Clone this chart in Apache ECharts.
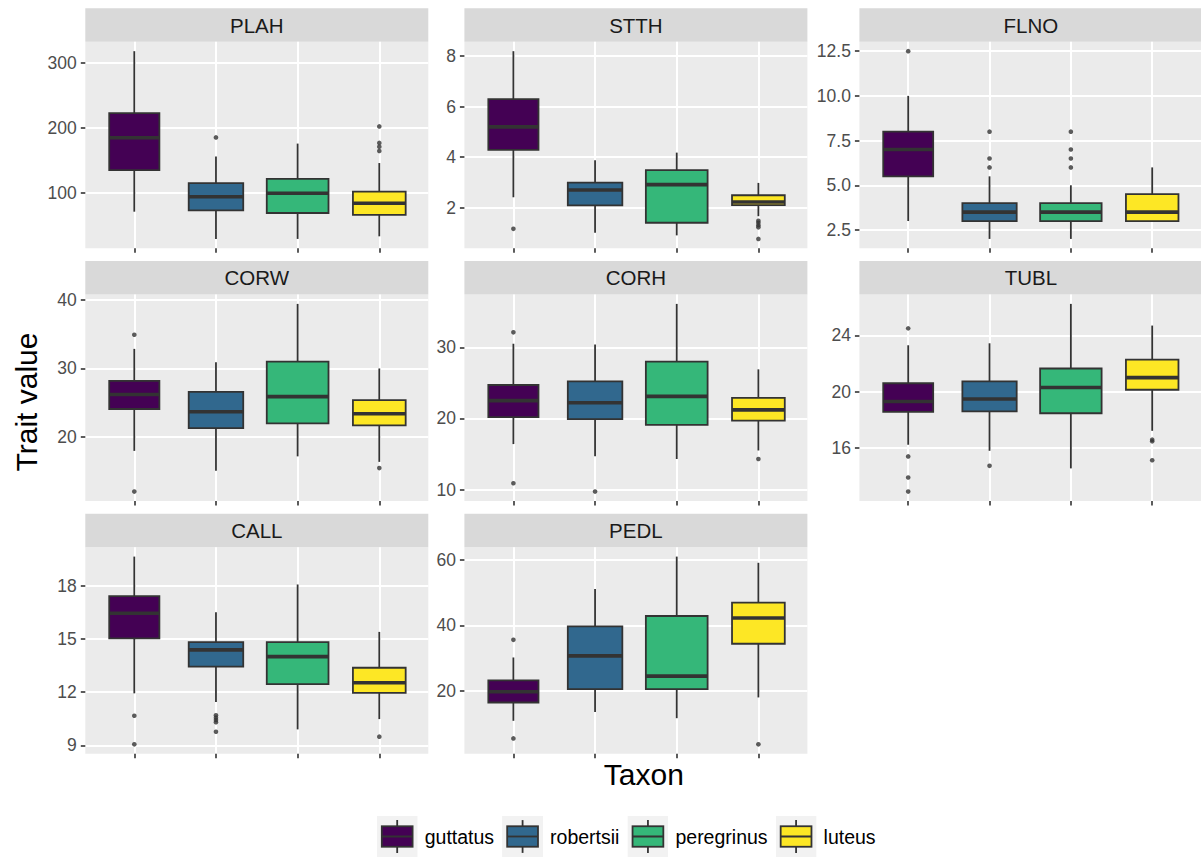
<!DOCTYPE html>
<html>
<head>
<meta charset="utf-8">
<script src="https://cdn.jsdelivr.net/npm/echarts@6.0.0/dist/echarts.min.js"></script>
<style>
  html, body { margin: 0; padding: 0; background: #ffffff; }
  #chart { width: 1201px; height: 858px; }
</style>
</head>
<body>
<div id="chart"></div>
<script>
// ---------------- DATA ----------------
const taxa = ['guttatus', 'robertsii', 'peregrinus', 'luteus'];
// estimated relative sample sizes (box widths are drawn proportional to sqrt(n))
const taxonRelativeN = [66, 78, 100, 73];
const traits = ['PLAH', 'STTH', 'FLNO', 'CORW', 'CORH', 'TUBL', 'CALL', 'PEDL'];

// each row: [lower whisker, Q1, median, Q3, upper whisker], one row per taxon
const PLAH_stats = [[71, 135, 185, 223, 318.5], [29, 73, 94, 115, 156], [29, 69, 99.5, 121.5, 176], [33, 66, 84, 102, 146]];
const PLAH_outliers = [[], [185.5], [], [202.5, 177, 171, 164.6]];
const PLAH_ticks = ['100', '200', '300'];

const STTH_stats = [[2.41, 4.29, 5.2, 6.3, 8.2], [1.0, 2.09, 2.7, 2.99, 3.88], [0.9, 1.4, 2.91, 3.49, 4.18], [1.66, 2.1, 2.22, 2.49, 2.98]];
const STTH_outliers = [[1.16], [], [], [1.48, 1.4, 1.3, 1.22, 0.76]];
const STTH_ticks = ['2', '4', '6', '8'];

const FLNO_stats = [[3, 5.5, 7, 8, 10], [2, 3, 3.5, 4, 5.5], [2, 3, 3.5, 4, 5], [3, 3, 3.5, 4.5, 6]];
const FLNO_outliers = [[12.5], [6, 6.5, 8], [6, 6.5, 7, 8], []];
const FLNO_ticks = ['2.5', '5.0', '7.5', '10.0', '12.5'];

const CORW_stats = [[18.0, 24.1, 26.2, 28.2, 32.85], [15.1, 21.3, 23.7, 26.6, 30.9], [17.2, 22.0, 25.9, 31.0, 39.4], [16.4, 21.7, 23.4, 25.4, 30.0]];
const CORW_outliers = [[34.9, 12.07], [], [], [15.5]];
const CORW_ticks = ['20', '30', '40'];

const CORH_stats = [[16.4, 20.2, 22.5, 24.7, 30.5], [14.7, 19.9, 22.2, 25.2, 30.4], [14.3, 19.1, 23.1, 28.0, 36.1], [15.5, 19.7, 21.2, 22.9, 26.9]];
const CORH_outliers = [[32.1, 10.9], [9.72], [], [14.3]];
const CORH_ticks = ['10', '20', '30'];

const TUBL_stats = [[16.23, 18.57, 19.3, 20.6, 23.3], [15.8, 18.6, 19.48, 20.73, 23.44], [14.55, 18.47, 20.3, 21.65, 26.24], [17.22, 20.14, 21.0, 22.28, 24.7]];
const TUBL_outliers = [[24.5, 15.4, 13.9, 12.9], [14.73], [], [16.59, 16.47, 15.13]];
const TUBL_ticks = ['16', '20', '24'];

const CALL_stats = [[11.93, 15.03, 16.44, 17.4, 19.63], [11.44, 13.43, 14.38, 14.81, 16.5], [9.9, 12.45, 14.0, 14.81, 18.06], [10.48, 11.96, 12.53, 13.37, 15.39]];
const CALL_outliers = [[10.67, 9.06], [10.69, 10.56, 10.43, 10.3, 9.77], [], [9.49]];
const CALL_ticks = ['9', '12', '15', '18'];

const PEDL_stats = [[10.8, 16.4, 19.7, 23.2, 30.2], [13.5, 20.5, 30.7, 39.7, 51.2], [11.6, 20.5, 24.5, 42.9, 61.1], [17.96, 34.4, 42.3, 47.0, 59.2]];
const PEDL_outliers = [[35.6, 5.4], [], [], [3.6]];
const PEDL_ticks = ['20', '40', '60'];

const xTitle = 'Taxon';
const yTitle = 'Trait value';

// ---------------- STYLE / LAYOUT ----------------
const taxonColors = ['#440154', '#31688E', '#35B779', '#FDE725'];
const FONT = '"Liberation Sans", Arial, Helvetica, sans-serif';
const colLeft = [85.3, 464.4, 859.4];
const panelW = 343;
const stripTop = [8.3, 261.0, 513.7];
const stripH = 33.5;
const panelH = 206.5;
const maxBoxWidth = 0.756;
const lineCol = '#333333';

const panelData = {
  PLAH: [PLAH_stats, PLAH_outliers, PLAH_ticks],
  STTH: [STTH_stats, STTH_outliers, STTH_ticks],
  FLNO: [FLNO_stats, FLNO_outliers, FLNO_ticks],
  CORW: [CORW_stats, CORW_outliers, CORW_ticks],
  CORH: [CORH_stats, CORH_outliers, CORH_ticks],
  TUBL: [TUBL_stats, TUBL_outliers, TUBL_ticks],
  CALL: [CALL_stats, CALL_outliers, CALL_ticks],
  PEDL: [PEDL_stats, PEDL_outliers, PEDL_ticks]
};

const maxN = Math.max.apply(null, taxonRelativeN);
const boxWidths = taxonRelativeN.map(n => maxBoxWidth * Math.sqrt(n / maxN));

function renderBox(params, api) {
  const x = api.value(0);
  const lo = api.coord([x, api.value(1)]);
  const q1 = api.coord([x, api.value(2)]);
  const med = api.coord([x, api.value(3)]);
  const q3 = api.coord([x, api.value(4)]);
  const hi = api.coord([x, api.value(5)]);
  const halfW = api.size([api.value(6), 0])[0] / 2;
  const color = api.visual('color');
  return {
    type: 'group',
    children: [
      { type: 'line', shape: { x1: lo[0], y1: lo[1], x2: q1[0], y2: q1[1] }, style: { stroke: lineCol, lineWidth: 1.8 } },
      { type: 'line', shape: { x1: q3[0], y1: q3[1], x2: hi[0], y2: hi[1] }, style: { stroke: lineCol, lineWidth: 1.8 } },
      { type: 'rect', shape: { x: q3[0] - halfW, y: q3[1], width: 2 * halfW, height: q1[1] - q3[1] }, style: { fill: color, stroke: lineCol, lineWidth: 1.8 } },
      { type: 'line', shape: { x1: med[0] - halfW, y1: med[1], x2: med[0] + halfW, y2: med[1] }, style: { stroke: lineCol, lineWidth: 3.6 } }
    ]
  };
}

const grids = [], xAxes = [], yAxes = [], series = [], graphics = [];

traits.forEach((trait, i) => {
  const col = i % 3, row = Math.floor(i / 3);
  const [stats, outliers, tickLabels] = panelData[trait];
  const tickVals = tickLabels.map(Number);
  let all = [];
  stats.forEach(s => { all = all.concat(s); });
  outliers.forEach(o => { all = all.concat(o); });
  const lo = Math.min.apply(null, all), hi = Math.max.apply(null, all);
  const pad = 0.05 * (hi - lo);
  const top = stripTop[row] + stripH;

  grids.push({
    left: colLeft[col], top: top, width: panelW, height: panelH,
    show: true, backgroundColor: '#EBEBEB', borderWidth: 0, containLabel: false
  });
  xAxes.push({
    type: 'value', gridIndex: i, min: 0.4, max: 4.6,
    axisLine: { show: false },
    axisLabel: { show: false, customValues: [1, 2, 3, 4] },
    axisTick: { show: true, customValues: [1, 2, 3, 4], length: 4.5, lineStyle: { color: lineCol, width: 1.6 } },
    splitLine: { show: true, lineStyle: { color: '#FFFFFF', width: 2 } }
  });
  yAxes.push({
    type: 'value', gridIndex: i, min: lo - pad, max: hi + pad,
    axisLine: { show: false },
    axisLabel: {
      show: true, customValues: tickVals, margin: 8.5,
      color: '#4D4D4D', fontSize: 17.5, fontFamily: FONT,
      formatter: v => {
        const k = tickVals.findIndex(t => Math.abs(t - v) < 1e-9);
        return k >= 0 ? tickLabels[k] : '';
      }
    },
    axisTick: { show: true, customValues: tickVals, length: 4.5, lineStyle: { color: lineCol, width: 1.6 } },
    splitLine: { show: true, lineStyle: { color: '#FFFFFF', width: 2 } }
  });

  taxa.forEach((taxon, k) => {
    series.push({
      type: 'custom', name: taxon, xAxisIndex: i, yAxisIndex: i,
      itemStyle: { color: taxonColors[k] },
      renderItem: renderBox,
      encode: { x: 0, y: [1, 2, 3, 4, 5] },
      data: [[k + 1].concat(stats[k]).concat([boxWidths[k]])],
      silent: true, z: 2
    });
  });
  const outPts = [];
  outliers.forEach((arr, k) => arr.forEach(v => outPts.push([k + 1, v])));
  series.push({
    type: 'scatter', name: trait + ' outliers', xAxisIndex: i, yAxisIndex: i,
    symbol: 'circle', symbolSize: 4.6,
    itemStyle: { color: lineCol }, data: outPts, silent: true, z: 3
  });

  // facet strip
  graphics.push({
    type: 'rect', silent: true,
    shape: { x: colLeft[col], y: stripTop[row], width: panelW, height: stripH },
    style: { fill: '#D9D9D9' }
  });
  graphics.push({
    type: 'text', silent: true,
    x: colLeft[col] + panelW / 2, y: stripTop[row] + stripH / 2,
    style: { text: trait, fill: '#1A1A1A', font: '20.5px ' + FONT, align: 'center', verticalAlign: 'middle' }
  });
});

// axis titles
graphics.push({
  type: 'text', silent: true, x: 643.8, y: 774.5,
  style: { text: xTitle, fill: '#000000', font: '30px ' + FONT, align: 'center', verticalAlign: 'middle' }
});
graphics.push({
  type: 'text', silent: true, x: 26.6, y: 402, rotation: Math.PI / 2,
  style: { text: yTitle, fill: '#000000', font: '30px ' + FONT, align: 'center', verticalAlign: 'middle' }
});

function legendIcon(color) {
  const s = 41;
  const svg =
    "<svg xmlns='http://www.w3.org/2000/svg' width='" + s + "' height='" + s + "' viewBox='0 0 " + s + " " + s + "'>" +
    "<rect x='0' y='0' width='" + s + "' height='" + s + "' fill='#F2F2F2'/>" +
    "<line x1='20.5' y1='4.1' x2='20.5' y2='10.25' stroke='#333333' stroke-width='1.8'/>" +
    "<line x1='20.5' y1='30.75' x2='20.5' y2='36.9' stroke='#333333' stroke-width='1.8'/>" +
    "<rect x='5.1' y='10.25' width='30.8' height='20.5' fill='" + color + "' stroke='#333333' stroke-width='1.8'/>" +
    "<line x1='5.1' y1='20.5' x2='35.9' y2='20.5' stroke='#333333' stroke-width='1.8'/>" +
    "</svg>";
  return 'image://data:image/svg+xml;charset=utf-8,' + encodeURIComponent(svg);
}

const option = {
  animation: false,
  backgroundColor: '#FFFFFF',
  textStyle: { fontFamily: FONT },
  grid: grids,
  xAxis: xAxes,
  yAxis: yAxes,
  series: series,
  graphic: graphics,
  legend: {
    show: true, orient: 'horizontal', left: 376.7, top: 816,
    itemWidth: 41, itemHeight: 41, itemGap: 8, selectedMode: false,
    padding: 0,
    textStyle: { color: '#000000', fontSize: 19.5, fontFamily: FONT, padding: [0, 0, 0, 2] },
    data: taxa.map((t, k) => ({ name: t, icon: legendIcon(taxonColors[k]) }))
  }
};

const chart = echarts.init(document.getElementById('chart'), null, { renderer: 'svg', width: 1201, height: 858 });
chart.setOption(option);
</script>
</body>
</html>
